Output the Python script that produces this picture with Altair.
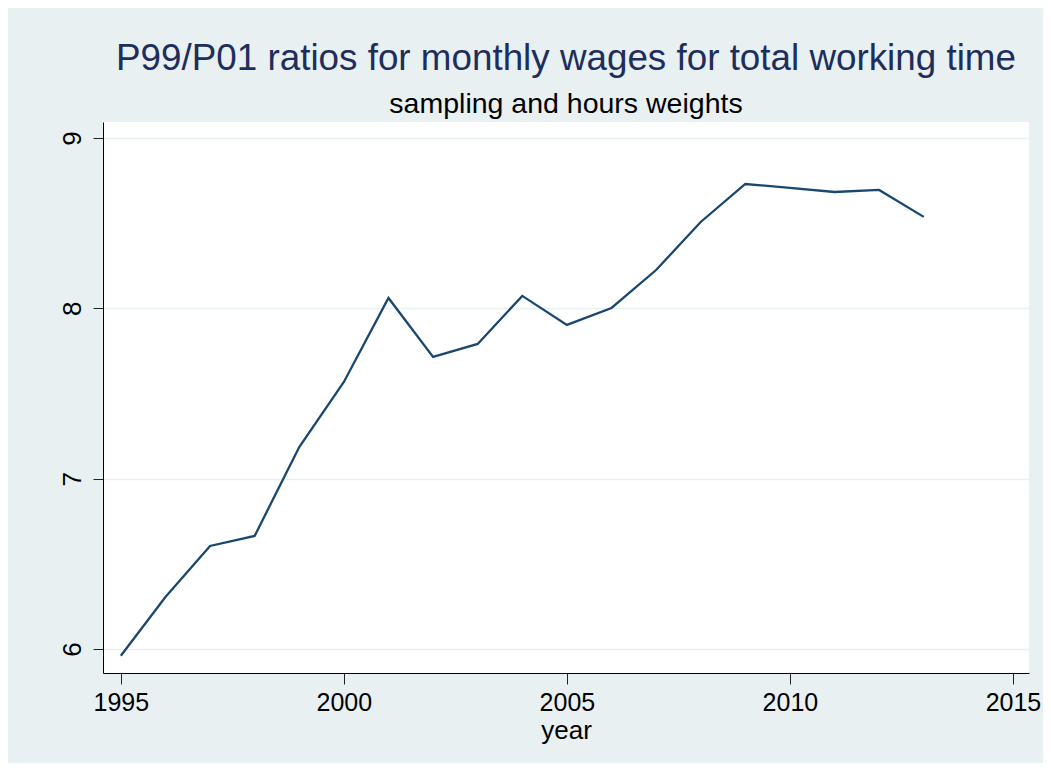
import altair as alt
import pandas as pd

years = list(range(1995, 2014))
ratios = [5.96, 6.305, 6.605, 6.664, 7.186, 7.568, 8.061, 7.715, 7.791, 8.073,
          7.903, 8.002, 8.225, 8.507, 8.730, 8.707, 8.683, 8.695, 8.537]
x_ticks = [1995, 2000, 2005, 2010, 2015]
y_ticks = [6, 7, 8, 9]

df = pd.DataFrame({"year": years, "ratio": ratios})

FONT = "Liberation Sans"

chart = alt.Chart(df).mark_line(color="#1a476f", strokeWidth=2.3).encode(
    x=alt.X("year:Q", scale=alt.Scale(domain=[1994.6, 2015.36], nice=False, zero=False),
            axis=alt.Axis(values=x_ticks, format="d", title="year", grid=False,
                          tickSize=11, tickColor="#222222", domainColor="#000000",
                          labelFontSize=25, titleFontSize=26, labelColor="#000000",
                          titleColor="#000000", labelFont=FONT, titleFont=FONT,
                          titleFontWeight="normal", labelPadding=6, titlePadding=2)),
    y=alt.Y("ratio:Q", scale=alt.Scale(domain=[5.859, 9.094], nice=False, zero=False),
            axis=alt.Axis(values=y_ticks, title=None, grid=True, gridColor="#e8f0f2",
                          gridWidth=1.5, tickSize=10, tickColor="#222222",
                          domainColor="#000000", labelFontSize=26, labelColor="#000000",
                          labelFont=FONT, labelAngle=270, labelPadding=8,
                          labelAlign="center", labelBaseline="bottom")),
).properties(
    width=926,
    height=551,
    background="#e8f0f2",
    padding={"left": 95, "top": 114, "right": 14, "bottom": 90},
    autosize=alt.AutoSizeParams(type="none"),
    title=alt.TitleParams(
        text="P99/P01 ratios for monthly wages for total working time",
        subtitle="sampling and hours weights",
        anchor="middle", fontSize=36.8, color="#1e2e5c", font=FONT, fontWeight="normal",
        subtitleFontSize=28.5, subtitleColor="#000000", subtitleFont=FONT,
        subtitlePadding=12, offset=4,
    ),
).configure_view(fill="#ffffff", stroke=None)

chart.save("out.html", embed_options={"renderer": "svg", "actions": False})
